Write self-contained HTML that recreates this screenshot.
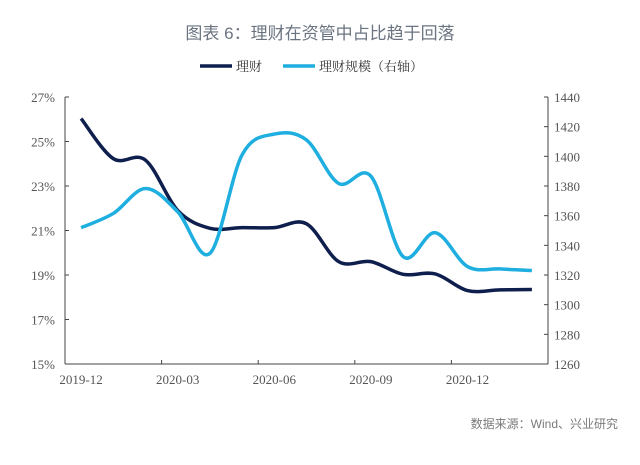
<!DOCTYPE html>
<html><head><meta charset="utf-8"><style>
body{margin:0;background:#fff;width:640px;height:460px;overflow:hidden}
svg text{font-family:"Liberation Serif","Noto Serif CJK SC",serif}
</style></head><body>
<svg width="640" height="460">
<text x="320" y="39" text-anchor="middle" font-size="17" fill="#6b7480" style="font-family:'Liberation Sans','Noto Sans CJK SC',sans-serif">图表 6：理财在资管中占比趋于回落</text>
<g>
<line x1="200" y1="66" x2="232" y2="66" stroke="#0f1f4d" stroke-width="3.5"/>
<text x="236" y="71" font-size="13" fill="#333">理财</text>
<line x1="283" y1="66" x2="315" y2="66" stroke="#1eaee0" stroke-width="3.5"/>
<text x="319" y="71" font-size="13" fill="#333">理财规模（右轴）</text>
</g>
<g id="axes"></g>
<path id="l1" fill="none" stroke="#0f1f4d" stroke-width="3.5"/>
<path id="l2" fill="none" stroke="#1eaee0" stroke-width="3.5"/>
<text x="618" y="428" text-anchor="end" font-size="12" fill="#7a7a7a" style="font-family:'Liberation Sans','Noto Sans CJK SC',sans-serif">数据来源：Wind、兴业研究</text>
</svg>
<script>
const categories=["2019-12","2020-01","2020-02","2020-03","2020-04","2020-05","2020-06","2020-07","2020-08","2020-09","2020-10","2020-11","2020-12","2021-01","2021-02"];
const shareValues=[26.03,24.23,24.16,21.9,21.1,21.13,21.13,21.3,19.6,19.6,19.03,19.05,18.3,18.33,18.35];
const scaleValues=[1351.9,1361.5,1378.3,1362.6,1334.6,1401,1415,1411,1381.7,1386.6,1332.4,1348.5,1325.7,1324.1,1323];
const leftTicks=[15,17,19,21,23,25,27];
const rightTicks=[1260,1280,1300,1320,1340,1360,1380,1400,1420,1440];
const xLabels=["2019-12","2020-03","2020-06","2020-09","2020-12"];
const L=65,R=548,T=97,B=364,band=(R-L)/categories.length;
const x=i=>L+band*(i+0.5);
const yl=v=>B-(v-15)/12*(B-T);
const yr=v=>B-(v-1260)/180*(B-T);
const NS="http://www.w3.org/2000/svg",ax=document.getElementById('axes');
function mk(t,a,txt){const e=document.createElementNS(NS,t);for(const k in a)e.setAttribute(k,a[k]);if(txt!=null)e.textContent=txt;ax.appendChild(e);return e;}
let e=mk('line',{x1:L,y1:T,x2:L,y2:B,stroke:'#444','stroke-width':1});


e=mk('line',{x1:R,y1:T,x2:R,y2:B,stroke:'#444','stroke-width':1});


e=mk('line',{x1:L,y1:B,x2:R,y2:B,stroke:'#444','stroke-width':1});


leftTicks.forEach(v=>{
 const t=mk('line',{x1:L,y1:yl(v),x2:L+4,y2:yl(v),stroke:'#444'});
 
 
 const s=mk('text',{x:L-10,y:yl(v)+5,'text-anchor':'end','font-size':13,fill:'#555'},v+'%');
 
 
});
rightTicks.forEach(v=>{
 const t=mk('line',{x1:R-4,y1:yr(v),x2:R,y2:yr(v),stroke:'#444'});
 
 
 const s=mk('text',{x:R+6,y:yr(v)+5,'font-size':13,fill:'#555'},v);
 
 
});
xLabels.forEach((lab,k)=>{
 const i=categories.indexOf(lab);
 if(k>0){const t=mk('line',{x1:L+band*i,y1:B,x2:L+band*i,y2:B-4,stroke:'#444'});
 
 }
 const s=mk('text',{x:x(i),y:B+20,'text-anchor':'middle','font-size':13,fill:'#555'},lab);
 
 
});
function smooth(pts){let d=`M${pts[0][0]},${pts[0][1]}`;
 for(let i=0;i<pts.length-1;i++){const p0=pts[Math.max(0,i-1)],p1=pts[i],p2=pts[i+1],p3=pts[Math.min(pts.length-1,i+2)];
 const c1=[p1[0]+(p2[0]-p0[0])/6,p1[1]+(p2[1]-p0[1])/6],c2=[p2[0]-(p3[0]-p1[0])/6,p2[1]-(p3[1]-p1[1])/6];
 d+=` C${c1[0]},${c1[1]} ${c2[0]},${c2[1]} ${p2[0]},${p2[1]}`;}return d;}
document.getElementById('l1').setAttribute('d',smooth(shareValues.map((v,i)=>[x(i),yl(v)])));
document.getElementById('l2').setAttribute('d',smooth(scaleValues.map((v,i)=>[x(i),yr(v)])));
</script>
</body></html>
